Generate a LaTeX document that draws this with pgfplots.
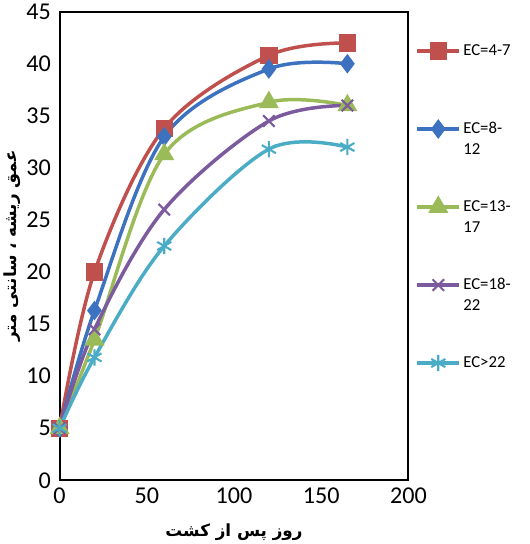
\documentclass[border=0pt]{standalone}
\usepackage{pgfplots}
\pgfplotsset{compat=1.18}
\usepackage{fontspec}
\setmainfont{Carlito}
\TeXXeTstate=1
\newfontfamily\arabicfont[Script=Arabic]{DejaVu Sans}
\definecolor{cA}{HTML}{C0504D}
\definecolor{cB}{HTML}{3C72C0}
\definecolor{cC}{HTML}{9BBB59}
\definecolor{cD}{HTML}{7B5A9E}
\definecolor{cE}{HTML}{4BACC6}
\begin{document}
\begin{tikzpicture}
\begin{axis}[scale only axis, width=300pt, height=403pt,
 xmin=0, xmax=200, ymin=0, ymax=45, xtick={0,50,...,200}, ytick={0,5,...,45},
 axis line style={line width=1.8pt}, tick style={draw=none},
 xtick pos=left, ytick pos=left,
 xticklabel style={yshift=-3pt}, yticklabel style={xshift=-4pt},
 tick label style={font=\huge}, /pgf/number format/assume math mode=true,
 xlabel={\arabicfont\bfseries\Large\beginR روز پس از کشت\endR}, xlabel style={yshift=-10pt},
 ylabel={\arabicfont\bfseries\Large\beginR عمق ریشه ، سانتی متر\endR}, ylabel style={yshift=-2pt},
 legend style={at={(1.01,0.94)}, anchor=north west, draw=none, font=\Large, row sep=52pt, nodes={align=left, text width=52pt}},
 legend cell align=left,
 legend image code/.code={\draw[#1, line width=3pt] (0pt,0pt) -- (36pt,0pt); \draw[#1, only marks] plot coordinates {(18pt,0pt)};}
 ]
\addplot[cA, line width=3pt, smooth, tension=0.55, mark=square*, mark size=6pt] coordinates {(0,5)(20,20)(60,33.8)(120,40.8)(165,42)};
\addlegendentry{EC=4-7}
\addplot[cB, line width=3pt, smooth, tension=0.55, mark=diamond*, mark size=6pt] coordinates {(0,5)(20,16.3)(60,33)(120,39.5)(165,40)};
\addlegendentry{EC=8-\\12}
\addplot[cC, line width=3pt, smooth, tension=0.55, mark=triangle*, mark size=7pt] coordinates {(0,5)(20,13.5)(60,31.3)(120,36.3)(165,36)};
\addlegendentry{EC=13-\\17}
\addplot[cD, line width=3pt, smooth, tension=0.55, mark=x, mark size=7pt, mark options={line width=1.8pt}] coordinates {(0,5)(20,14.5)(60,26)(120,34.5)(165,36)};
\addlegendentry{EC=18-\\22}
\addplot[cE, line width=3pt, smooth, tension=0.55, mark=asterisk, mark size=7pt, mark options={line width=1.8pt}] coordinates {(0,5)(20,11.8)(60,22.5)(120,31.8)(165,32)};
\addlegendentry{EC>22}
\end{axis}
\end{tikzpicture}
\end{document}
